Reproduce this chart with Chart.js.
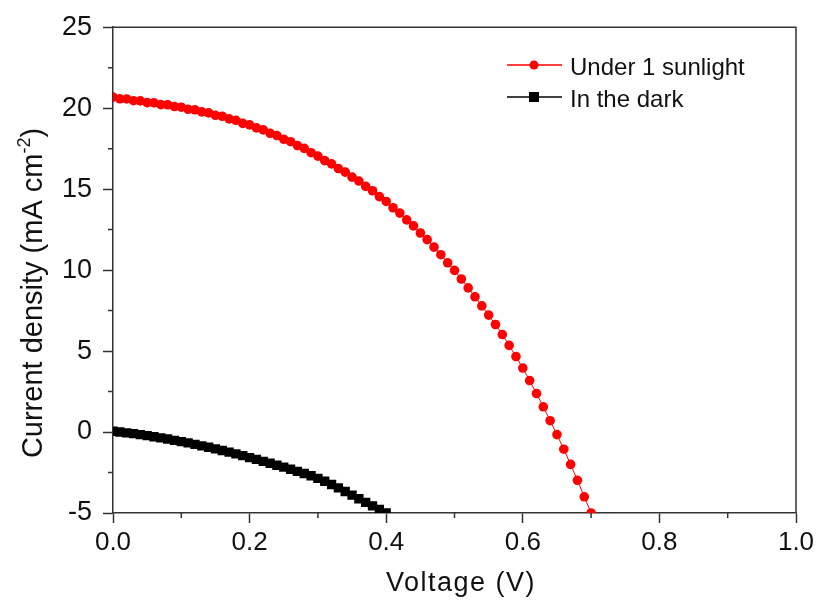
<!DOCTYPE html>
<html>
<head>
<meta charset="utf-8">
<title>J-V curve</title>
<script src="https://cdn.jsdelivr.net/npm/chart.js@4.4.0/dist/chart.umd.min.js"></script>
<style>
  html, body { margin: 0; padding: 0; background: #fff; }
  canvas { display: block; }
</style>
</head>
<body>
<canvas id="jv-chart" width="821" height="601"></canvas>
<script>
// bias voltage, V (0.01 V steps)
const voltage = [
  0.00, 0.01, 0.02, 0.03, 0.04, 0.05, 0.06, 0.07, 0.08, 0.09,
  0.10, 0.11, 0.12, 0.13, 0.14, 0.15, 0.16, 0.17, 0.18, 0.19,
  0.20, 0.21, 0.22, 0.23, 0.24, 0.25, 0.26, 0.27, 0.28, 0.29,
  0.30, 0.31, 0.32, 0.33, 0.34, 0.35, 0.36, 0.37, 0.38, 0.39,
  0.40, 0.41, 0.42, 0.43, 0.44, 0.45, 0.46, 0.47, 0.48, 0.49,
  0.50, 0.51, 0.52, 0.53, 0.54, 0.55, 0.56, 0.57, 0.58, 0.59,
  0.60, 0.61, 0.62, 0.63, 0.64, 0.65, 0.66, 0.67, 0.68, 0.69,
  0.70,
]

// current density under illumination, mA cm-2
const sunlight = [
  20.68, 20.58, 20.57, 20.46, 20.45, 20.34, 20.33, 20.22, 20.21, 20.10,
  20.06, 19.93, 19.90, 19.77, 19.71, 19.56, 19.50, 19.34, 19.25, 19.06,
  18.97, 18.78, 18.66, 18.45, 18.31, 18.08, 17.93, 17.69, 17.52, 17.25,
  17.04, 16.76, 16.56, 16.27, 16.05, 15.74, 15.50, 15.17, 14.90, 14.54,
  14.24, 13.85, 13.52, 13.10, 12.73, 12.29, 11.88, 11.42, 10.95, 10.45,
  9.98, 9.45, 8.90, 8.35, 7.79, 7.22, 6.64, 6.02, 5.35, 4.66,
  3.95, 3.18, 2.38, 1.56, 0.70, -0.16, -1.06, -2.00, -2.98, -4.00,
  -5.00,
]

// current density in the dark, mA cm-2
const dark = [
  0.05, 0.00, -0.05, -0.10, -0.16, -0.22, -0.29, -0.36, -0.43, -0.51,
  -0.59, -0.67, -0.76, -0.85, -0.94, -1.04, -1.14, -1.24, -1.35, -1.46,
  -1.58, -1.69, -1.81, -1.93, -2.05, -2.17, -2.30, -2.43, -2.56, -2.70,
  -2.86, -3.04, -3.24, -3.45, -3.67, -3.90, -4.12, -4.34, -4.56, -4.78,
  -5.00,
]

const seriesLabels = ['Under 1 sunlight', 'In the dark']

const FONT = "'Liberation Sans', Arial, sans-serif"
const axisColor = '#333'
const textColor = '#111'

const toPoints = (ys) => ys.map((y, i) => ({ x: voltage[i], y }))

// frame, minor ticks, axis titles and legend
const decorations = {
  id: 'decorations',
  afterDraw(chart) {
    const { ctx, chartArea: a, scales } = chart
    ctx.save()

    ctx.strokeStyle = axisColor
    ctx.lineWidth = 1.5
    ctx.beginPath()
    ctx.moveTo(a.left, a.top)
    ctx.lineTo(a.right, a.top)
    ctx.lineTo(a.right, a.bottom)

    const xt = scales.x.ticks
    for (let i = 0; i < xt.length - 1; i++) {
      const px = scales.x.getPixelForValue((xt[i].value + xt[i + 1].value) / 2)
      ctx.moveTo(px, a.bottom)
      ctx.lineTo(px, a.bottom + 5)
    }
    const yt = scales.y.ticks
    for (let i = 0; i < yt.length - 1; i++) {
      const py = scales.y.getPixelForValue((yt[i].value + yt[i + 1].value) / 2)
      ctx.moveTo(a.left, py)
      ctx.lineTo(a.left - 5, py)
    }
    ctx.stroke()

    // x title
    ctx.fillStyle = textColor
    ctx.font = `27px ${FONT}`
    ctx.textAlign = 'center'
    ctx.textBaseline = 'alphabetic'
    ctx.letterSpacing = '1.5px'
    ctx.fillText('Voltage (V)', 461, 591)
    ctx.letterSpacing = '0px'

    // y title with superscript
    ctx.save()
    ctx.translate(42, 293)
    ctx.rotate(-Math.PI / 2)
    ctx.textAlign = 'left'
    const main = 'Current density (mA cm'
    const sup = '-2'
    ctx.font = `29px ${FONT}`
    const w1 = ctx.measureText(main).width
    const w3 = ctx.measureText(')').width
    ctx.font = `18px ${FONT}`
    const w2 = ctx.measureText(sup).width
    const x0 = -(w1 + w2 + w3) / 2
    ctx.font = `29px ${FONT}`
    ctx.fillText(main, x0, 0)
    ctx.font = `18px ${FONT}`
    ctx.fillText(sup, x0 + w1, -12)
    ctx.font = `29px ${FONT}`
    ctx.fillText(')', x0 + w1 + w2, 0)
    ctx.restore()

    // legend
    ctx.font = `24px ${FONT}`
    ctx.textAlign = 'left'
    ctx.textBaseline = 'alphabetic'
    const rows = [65, 97]
    chart.data.datasets.forEach((ds, i) => {
      const y = rows[i]
      ctx.strokeStyle = ds.borderColor
      ctx.lineWidth = 1.5
      ctx.beginPath()
      ctx.moveTo(507, y)
      ctx.lineTo(562, y)
      ctx.stroke()
      ctx.fillStyle = ds.pointBackgroundColor
      if (ds.pointStyle === 'rect') {
        ctx.fillRect(529, y - 5, 10, 10)
      } else {
        ctx.beginPath()
        ctx.arc(534, y, 4.5, 0, Math.PI * 2)
        ctx.fill()
      }
      ctx.fillStyle = textColor
      ctx.fillText(ds.label, 570, y + 10)
    })

    ctx.restore()
  },
}

const canvas = document.getElementById('jv-chart')
const ctx = canvas.getContext('2d')

new Chart(ctx, {
  type: 'line',
  data: {
    datasets: [
      {
        label: seriesLabels[0],
        data: toPoints(sunlight),
        borderColor: '#ff0000',
        backgroundColor: '#ff0000',
        pointBackgroundColor: '#ff0000',
        pointBorderWidth: 0,
        pointStyle: 'circle',
        pointRadius: 4.8,
        borderWidth: 1,
        tension: 0,
      },
      {
        label: seriesLabels[1],
        data: toPoints(dark),
        borderColor: '#000000',
        backgroundColor: '#000000',
        pointBackgroundColor: '#000000',
        pointBorderWidth: 0,
        pointStyle: 'rect',
        pointRadius: 6.6,
        borderWidth: 1,
        tension: 0,
      },
    ],
  },
  options: {
    responsive: false,
    animation: false,
    events: [],
    layout: { padding: { top: 27, right: 25, left: 0, bottom: 0 } },
    plugins: {
      legend: { display: false },
      tooltip: { enabled: false },
    },
    scales: {
      x: {
        type: 'linear',
        min: 0,
        max: 1,
        afterFit: (scale) => {
          scale.height = 88
        },
        border: { color: axisColor, width: 1.5 },
        grid: {
          drawOnChartArea: false,
          tickLength: 10,
          tickColor: axisColor,
          tickWidth: 1.5,
        },
        ticks: {
          stepSize: 0.2,
          padding: 4,
          color: textColor,
          font: { family: FONT, size: 26 },
          callback: (v) => Number(v).toFixed(1),
        },
      },
      y: {
        min: -5,
        max: 25,
        afterFit: (scale) => {
          scale.width = 113
        },
        border: { color: axisColor, width: 1.5 },
        grid: {
          drawOnChartArea: false,
          tickLength: 10,
          tickColor: axisColor,
          tickWidth: 1.5,
        },
        ticks: {
          stepSize: 5,
          padding: 11,
          color: textColor,
          font: { family: FONT, size: 27 },
          callback: (v) => String(v),
        },
      },
    },
  },
  plugins: [decorations],
})
</script>
</body>
</html>
